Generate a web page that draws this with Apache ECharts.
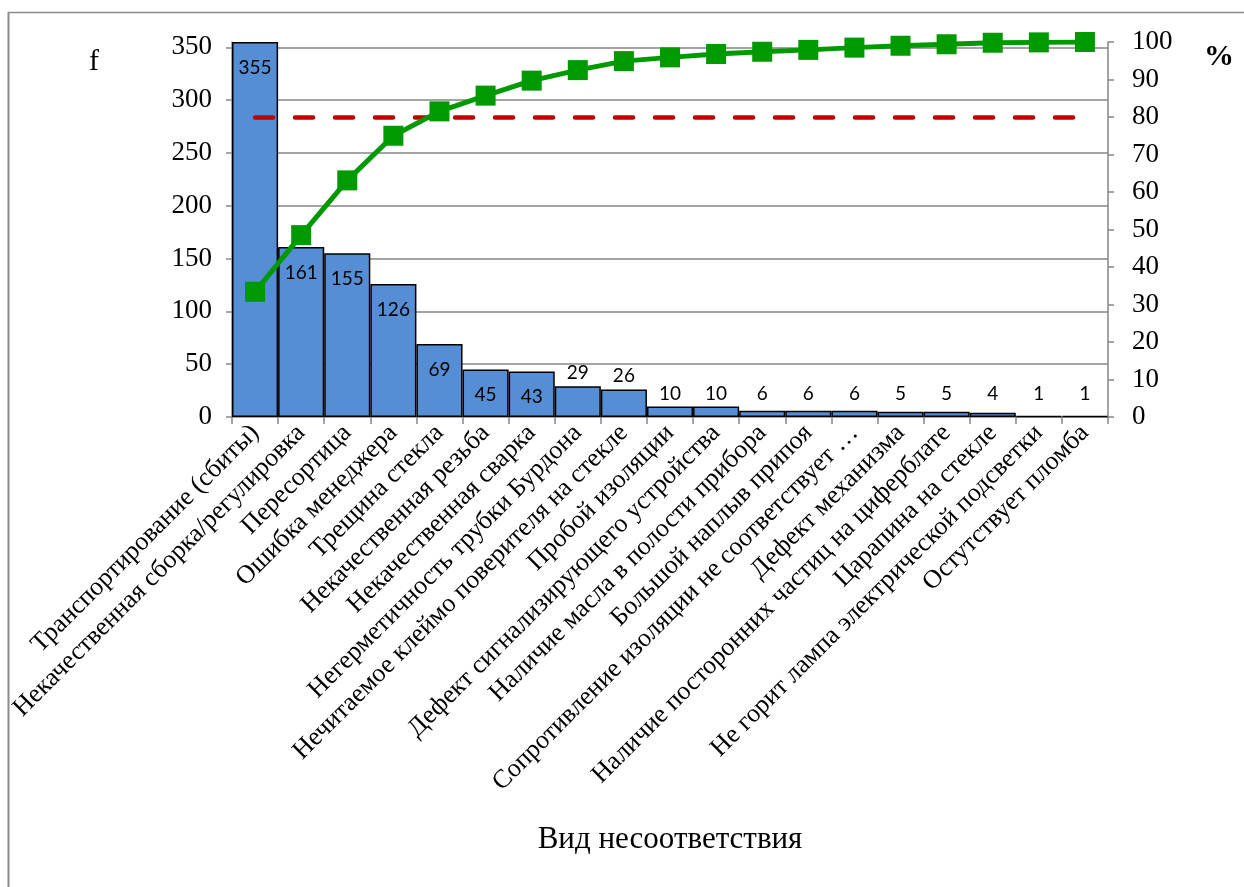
<!DOCTYPE html>
<html>
<head>
<meta charset="utf-8">
<script src="https://cdn.jsdelivr.net/npm/echarts@6/dist/echarts.min.js"></script>
<style>
  html, body { margin: 0; padding: 0; background: #ffffff; }
  #chart { width: 1244px; height: 887px; }
</style>
</head>
<body>
<div id="chart"></div>
<script>
// Defect types, sorted by frequency (Pareto order)
const categories = [
  'Транспортирование (сбиты)',
  'Некачественная сборка/регулировка',
  'Пересортица',
  'Ошибка менеджера',
  'Трещина стекла',
  'Некачественная резьба',
  'Некачественная сварка',
  'Негерметичность трубки Бурдона',
  'Нечитаемое клеймо поверителя на стекле',
  'Пробой изоляции',
  'Дефект сигнализирующего устройства',
  'Наличие масла в полости прибора',
  'Большой наплыв припоя',
  'Сопротивление изоляции не соответствует …',
  'Дефект механизма',
  'Наличие посторонних частиц на циферблате',
  'Царапина на стекле',
  'Не горит лампа электрической подсветки',
  'Остутствует пломба'
];

// Number of occurrences per defect type
const counts = [355, 161, 155, 126, 69, 45, 43, 29, 26, 10, 10, 6, 6, 6, 5, 5, 4, 1, 1];

// Cumulative share, %
const cumulativePercent = [33.4, 48.5, 63.1, 75.0, 81.5, 85.7, 89.7, 92.5, 94.9, 95.9,
                           96.8, 97.4, 97.9, 98.5, 99.0, 99.4, 99.8, 99.9, 100.0];

// Axis tick labels
const countTicks = [0, 50, 100, 150, 200, 250, 300, 350];
const percentTicks = [0, 10, 20, 30, 40, 50, 60, 70, 80, 90, 100];

// 80 % reference level
const paretoThreshold = 80;

const serif = '"Liberation Serif", "Times New Roman", serif';
const axisGray = '#868686';

function barLabel(v) {
  if (v >= 40) return { position: 'insideTop', distance: 16 };
  if (v >= 20) return { position: 'top', distance: 4 };
  return { position: 'insideBottom', distance: 14 };
}

const chart = echarts.init(document.getElementById('chart'), null, { renderer: 'canvas' });

chart.setOption({
  animation: false,
  backgroundColor: '#ffffff',
  grid: { left: 232, right: 136, top: 42, bottom: 470, containLabel: false },
  xAxis: {
    type: 'category',
    data: categories,
    boundaryGap: true,
    axisLine: { lineStyle: { color: axisGray, width: 1.5 } },
    axisTick: { show: true, length: 7, lineStyle: { color: axisGray, width: 1.5 } },
    axisLabel: {
      interval: 0,
      rotate: 45,
      margin: 12,
      color: '#000',
      fontFamily: serif,
      fontSize: 26
    },
    splitLine: { show: false }
  },
  yAxis: [
    {
      type: 'value',
      min: countTicks[0],
      max: Math.max.apply(null, counts),
      interval: countTicks[1] - countTicks[0],
      axisLine: { show: true, lineStyle: { color: axisGray, width: 1.5 } },
      axisTick: { show: true, length: 6, lineStyle: { color: axisGray, width: 1.5 } },
      axisLabel: {
        color: '#000', fontFamily: serif, fontSize: 27, margin: 20,
        showMaxLabel: false
      },
      splitLine: {
        show: true, showMinLine: false, showMaxLine: false,
        lineStyle: { color: axisGray, width: 1.5 }
      }
    },
    {
      type: 'value',
      min: percentTicks[0],
      max: percentTicks[percentTicks.length - 1],
      interval: percentTicks[1] - percentTicks[0],
      position: 'right',
      axisLine: { show: true, lineStyle: { color: axisGray, width: 1.5 } },
      axisTick: { show: true, length: 6, lineStyle: { color: axisGray, width: 1.5 } },
      axisLabel: { color: '#000', fontFamily: serif, fontSize: 27, margin: 24 },
      splitLine: { show: false }
    }
  ],
  series: [
    {
      name: 'f',
      type: 'bar',
      yAxisIndex: 0,
      barCategoryGap: 0,
      barGap: 0,
      itemStyle: { color: '#558ED5', borderColor: '#000000', borderWidth: 1.5 },
      data: counts.map(v => ({ value: v, label: barLabel(v) })),
      label: {
        show: true,
        color: '#000',
        fontFamily: 'Lato, "Open Sans", sans-serif',
        fontSize: 19
      },
      z: 2
    },
    {
      name: '%',
      type: 'line',
      yAxisIndex: 1,
      data: cumulativePercent,
      symbol: 'rect',
      symbolSize: 20,
      lineStyle: { color: '#009900', width: 5 },
      itemStyle: { color: '#009900' },
      z: 4,
      markLine: {
        silent: true,
        symbol: ['none', 'none'],
        label: { show: false },
        lineStyle: { color: '#C00000', width: 4.5, type: [18, 22], cap: 'round' },
        data: [[
          { coord: [categories[0], paretoThreshold] },
          { coord: [categories[categories.length - 1], paretoThreshold] }
        ]],
        z: 3
      }
    }
  ],
  graphic: [
    // chart frame (left and top edges)
    { type: 'line', shape: { x1: 8.5, y1: 12, x2: 8.5, y2: 887 },
      style: { stroke: '#8c8c8c', lineWidth: 2 } },
    { type: 'line', shape: { x1: 8, y1: 12.5, x2: 1244, y2: 12.5 },
      style: { stroke: '#8c8c8c', lineWidth: 1.5 } },
    { type: 'text', x: 94, y: 62,
      style: { text: 'f', font: '30px ' + serif, fill: '#000',
               textAlign: 'center', textVerticalAlign: 'middle' } },
    { type: 'text', x: 1219, y: 57,
      style: { text: '%', font: 'bold 30px ' + serif, fill: '#000',
               textAlign: 'center', textVerticalAlign: 'middle' } },
    { type: 'text', x: 670, y: 840,
      style: { text: 'Вид несоответствия', font: '31px ' + serif, fill: '#000',
               textAlign: 'center', textVerticalAlign: 'middle' } }
  ]
});
</script>
</body>
</html>
